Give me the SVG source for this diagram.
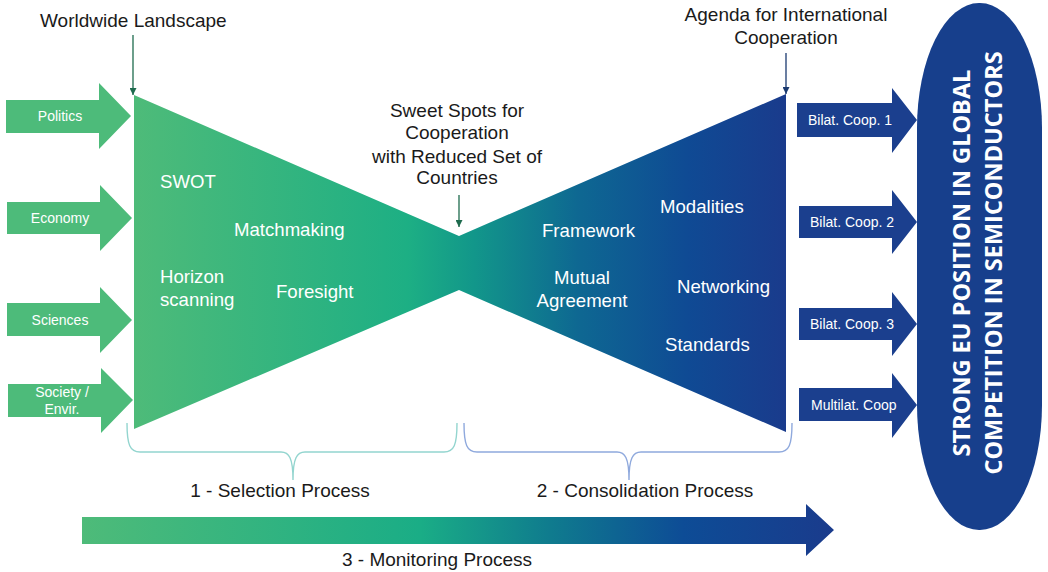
<svg xmlns="http://www.w3.org/2000/svg" width="1048" height="572" viewBox="0 0 1048 572">
<defs>
<linearGradient id="gBow" gradientUnits="userSpaceOnUse" x1="134" y1="0" x2="786" y2="0">
<stop offset="0" stop-color="#4EBB79"/>
<stop offset="0.42" stop-color="#1DAF84"/>
<stop offset="0.52" stop-color="#12978A"/>
<stop offset="0.68" stop-color="#0E6892"/>
<stop offset="0.85" stop-color="#0F4A94"/>
<stop offset="1" stop-color="#1A3B8C"/>
</linearGradient>
<linearGradient id="gMon" gradientUnits="userSpaceOnUse" x1="82" y1="0" x2="834" y2="0">
<stop offset="0" stop-color="#4EBB79"/>
<stop offset="0.45" stop-color="#1AAD86"/>
<stop offset="0.62" stop-color="#0F7C8E"/>
<stop offset="0.8" stop-color="#0D4C96"/>
<stop offset="1" stop-color="#1A3B8C"/>
</linearGradient>
<marker id="mG" viewBox="0 0 10 10" refX="10" refY="5" markerWidth="7" markerHeight="7" markerUnits="userSpaceOnUse" orient="auto">
<path d="M0,0 L10,5 L0,10 Z" fill="#1E6B4E"/>
</marker>
<marker id="mB" viewBox="0 0 10 10" refX="10" refY="5" markerWidth="7" markerHeight="7" markerUnits="userSpaceOnUse" orient="auto">
<path d="M0,0 L10,5 L0,10 Z" fill="#1B3A70"/>
</marker>
<style>
.lbl{font-family:"Liberation Sans",Arial,sans-serif;font-size:19px;fill:#1a1a1a}
.in{font-family:"Liberation Sans",Arial,sans-serif;font-size:18.6px;fill:#ffffff}
.sm{font-family:"Liberation Sans",Arial,sans-serif;font-size:14px;fill:#ffffff}
.big{font-family:"Open Sans","DejaVu Sans",sans-serif;font-weight:bold;font-size:23.5px;fill:#ffffff}
.garr{fill:#4DBB7A}
.barr{fill:#1B3F8E}
</style>
</defs>

<g id="bowtie">
<polygon points="134,95 459,236 786,94 786,432 459,290 134,429" fill="url(#gBow)"/>
<text class="in" x="160" y="188">SWOT</text>
<text class="in" x="234" y="236">Matchmaking</text>
<text class="in" x="160" y="283">Horizon</text>
<text class="in" x="160" y="306">scanning</text>
<text class="in" x="276" y="298">Foresight</text>
<text class="in" x="660" y="213">Modalities</text>
<text class="in" x="542" y="237">Framework</text>
<text class="in" x="582" y="284" text-anchor="middle">Mutual</text>
<text class="in" x="582" y="307" text-anchor="middle">Agreement</text>
<text class="in" x="677" y="293">Networking</text>
<text class="in" x="665" y="351">Standards</text>
</g>

<g id="in-politics">
<polygon class="garr" points="6,100 99,100 99,83 131,116 99,149 99,133 6,133"/>
<text class="sm" x="60" y="121" text-anchor="middle">Politics</text>
</g>
<g id="in-economy">
<polygon class="garr" points="7,202 100,202 100,185 132,218 100,251 100,234 7,234"/>
<text class="sm" x="60" y="223" text-anchor="middle">Economy</text>
</g>
<g id="in-sciences">
<polygon class="garr" points="7,303 100,303 100,287 132,320 100,353 100,336 7,336"/>
<text class="sm" x="60" y="325" text-anchor="middle">Sciences</text>
</g>
<g id="in-society">
<polygon class="garr" points="8,384 101,384 101,368 133,400 101,433 101,417 8,417"/>
<text class="sm" x="62" y="397" text-anchor="middle">Society /</text>
<text class="sm" x="62" y="414" text-anchor="middle">Envir.</text>
</g>

<g id="out-bilat1">
<polygon class="barr" points="797,103 892,103 892,88 917,120 892,153 892,137 797,137"/>
<text class="sm" x="808" y="125">Bilat. Coop. 1</text>
</g>
<g id="out-bilat2">
<polygon class="barr" points="799,206 892,206 892,190 917,222 892,254 892,238 799,238"/>
<text class="sm" x="810" y="227">Bilat. Coop. 2</text>
</g>
<g id="out-bilat3">
<polygon class="barr" points="799,308 892,308 892,292 917,324 892,356 892,340 799,340"/>
<text class="sm" x="810" y="329">Bilat. Coop. 3</text>
</g>
<g id="out-multilat">
<polygon class="barr" points="799,388 892,388 892,373 917,405 892,438 892,421 799,421"/>
<text class="sm" x="811" y="410">Multilat. Coop</text>
</g>

<g id="goal">
<rect x="917" y="3" width="125" height="527" rx="62" ry="125" fill="#173F8C"/>
<text class="big" transform="translate(970,263) rotate(-90)" text-anchor="middle">STRONG EU POSITION IN GLOBAL</text>
<text class="big" transform="translate(1002,263) rotate(-90)" text-anchor="middle">COMPETITION IN SEMICONDUCTORS</text>
</g>

<g id="label-worldwide">
<text class="lbl" x="40" y="27">Worldwide Landscape</text>
</g>
<g id="label-agenda">
<text class="lbl" x="786" y="21" text-anchor="middle">Agenda for International</text>
<text class="lbl" x="786" y="44" text-anchor="middle">Cooperation</text>
</g>
<g id="label-sweetspots">
<text class="lbl" x="457" y="117" text-anchor="middle">Sweet Spots for</text>
<text class="lbl" x="457" y="139" text-anchor="middle">Cooperation</text>
<text class="lbl" x="457" y="163" text-anchor="middle">with Reduced Set of</text>
<text class="lbl" x="457" y="184" text-anchor="middle">Countries</text>
</g>

<g id="selection">
<path d="M127,423 C127,445 130,452 140,452 L281,452 C289,452 293,458 293,480 C293,458 297,452 305,452 L444,452 C454,452 457,445 457,423" fill="none" stroke="#93D5CF" stroke-width="1.4"/>
<text class="lbl" x="280" y="497" text-anchor="middle">1 - Selection Process</text>
</g>
<g id="consolidation">
<path d="M464,423 C464,445 467,452 477,452 L617,452 C625,452 629,458 629,480 C629,458 633,452 641,452 L779,452 C789,452 792,445 792,423" fill="none" stroke="#8FA9DD" stroke-width="1.4"/>
<text class="lbl" x="645" y="497" text-anchor="middle">2 - Consolidation Process</text>
</g>
<g id="monitoring">
<polygon points="82,517 806,517 806,504 834,530 806,556 806,544 82,544" fill="url(#gMon)"/>
<text class="lbl" x="437" y="566" text-anchor="middle">3 - Monitoring Process</text>
</g>

<g id="connectors">
<line x1="133" y1="35" x2="133" y2="95" stroke="#1E6B4E" stroke-width="1.3" marker-end="url(#mG)"/>
<line x1="786" y1="53" x2="786" y2="94" stroke="#1B3A70" stroke-width="1.3" marker-end="url(#mB)"/>
<line x1="459" y1="195" x2="459" y2="227" stroke="#1E6B4E" stroke-width="1.3" marker-end="url(#mG)"/>
</g>
</svg>
